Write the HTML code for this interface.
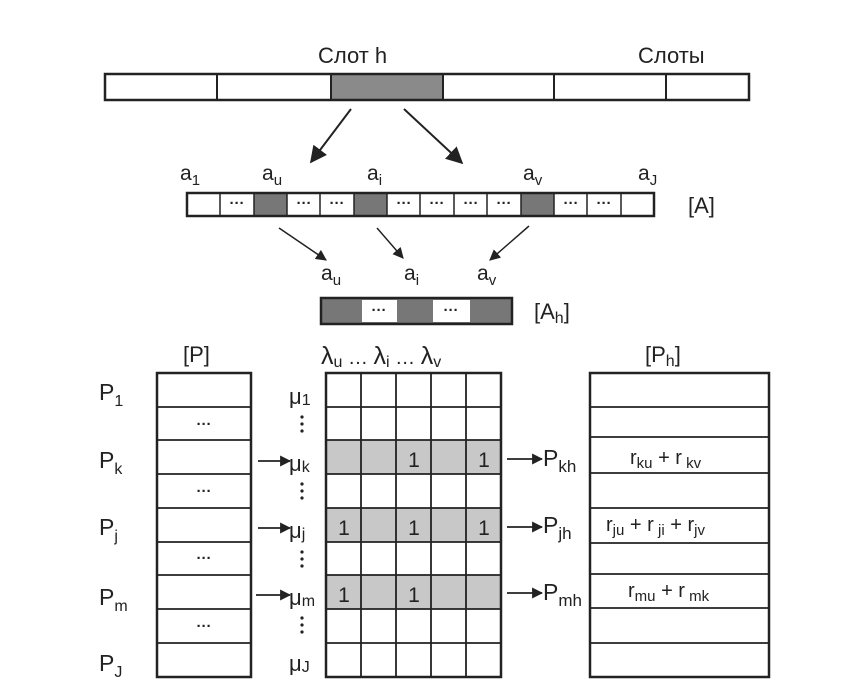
<!DOCTYPE html>
<html><head><meta charset="utf-8"><style>
html,body{margin:0;padding:0;background:#fff;}
svg{display:block;}
text{font-family:"Liberation Sans","DejaVu Sans",sans-serif;fill:#222;}
</style></head><body>
<svg width="850" height="695" viewBox="0 0 850 695" xmlns="http://www.w3.org/2000/svg">
<defs>
<marker id="ah" viewBox="0 0 10 10" refX="9" refY="5" markerWidth="11" markerHeight="11" orient="auto" markerUnits="userSpaceOnUse">
<path d="M0,0 L10,5 L0,10 z" fill="#222"/></marker>
<marker id="ab" viewBox="0 0 10 10" refX="9" refY="5" markerWidth="17" markerHeight="17" orient="auto" markerUnits="userSpaceOnUse">
<path d="M0,0 L10,5 L0,10 z" fill="#222"/></marker>
</defs>
<text x="318" y="63" font-size="22">Слот h</text>
<text x="638" y="63" font-size="22">Слоты</text>
<rect x="331" y="74" width="112" height="26" fill="#8a8a8a"/>
<rect x="105" y="74" width="644" height="26" fill="none" stroke="#222" stroke-width="2.5"/>
<g stroke="#222" stroke-width="2">
<line x1="217" y1="74" x2="217" y2="100"/><line x1="331" y1="74" x2="331" y2="100"/>
<line x1="443" y1="74" x2="443" y2="100"/><line x1="554" y1="74" x2="554" y2="100"/>
<line x1="666" y1="74" x2="666" y2="100"/>
</g>
<g stroke="#222" stroke-width="2">
<line x1="351" y1="109" x2="311" y2="162" marker-end="url(#ab)"/>
<line x1="404" y1="109" x2="462" y2="163" marker-end="url(#ab)"/>
</g>
<g font-size="21">
<text x="180" y="180">a<tspan font-size="15" dy="5">1</tspan></text>
<text x="262" y="180">a<tspan font-size="15" dy="5">u</tspan></text>
<text x="367" y="180">a<tspan font-size="15" dy="5">i</tspan></text>
<text x="523" y="180">a<tspan font-size="15" dy="5">v</tspan></text>
<text x="638" y="180">a<tspan font-size="15" dy="5">J</tspan></text>
<text x="688" y="213" font-size="22">[A]</text>
</g>
<rect x="254" y="193" width="33" height="23" fill="#777"/>
<rect x="354" y="193" width="33" height="23" fill="#777"/>
<rect x="521" y="193" width="33" height="23" fill="#777"/>
<g stroke="#222" stroke-width="1.5">
<line x1="220" y1="193" x2="220" y2="216"/><line x1="254" y1="193" x2="254" y2="216"/>
<line x1="287" y1="193" x2="287" y2="216"/><line x1="320" y1="193" x2="320" y2="216"/>
<line x1="354" y1="193" x2="354" y2="216"/><line x1="387" y1="193" x2="387" y2="216"/>
<line x1="420" y1="193" x2="420" y2="216"/><line x1="454" y1="193" x2="454" y2="216"/>
<line x1="487" y1="193" x2="487" y2="216"/><line x1="521" y1="193" x2="521" y2="216"/>
<line x1="554" y1="193" x2="554" y2="216"/><line x1="587" y1="193" x2="587" y2="216"/>
<line x1="621" y1="193" x2="621" y2="216"/>
</g>
<rect x="187" y="193" width="467" height="23" fill="none" stroke="#222" stroke-width="2.5"/>
<g font-size="15" font-weight="bold" text-anchor="middle">
<text x="237" y="208">···</text><text x="304" y="208">···</text><text x="337" y="208">···</text>
<text x="404" y="208">···</text><text x="437" y="208">···</text><text x="471" y="208">···</text><text x="504" y="208">···</text>
<text x="571" y="208">···</text><text x="604" y="208">···</text>
</g>
<g stroke="#222" stroke-width="1.5">
<line x1="279" y1="228" x2="326" y2="260" marker-end="url(#ah)"/>
<line x1="377" y1="228" x2="403" y2="258" marker-end="url(#ah)"/>
<line x1="529" y1="226" x2="490" y2="260" marker-end="url(#ah)"/>
</g>
<g font-size="21">
<text x="321" y="280">a<tspan font-size="15" dy="5">u</tspan></text>
<text x="404" y="280">a<tspan font-size="15" dy="5">i</tspan></text>
<text x="477" y="280">a<tspan font-size="15" dy="5">v</tspan></text>
<text x="534" y="319" font-size="22">[A<tspan font-size="16" dy="4">h</tspan><tspan dy="-4">]</tspan></text>
</g>
<rect x="321" y="298" width="191" height="26" fill="#777" stroke="#222" stroke-width="2.5"/>
<rect x="362" y="300" width="35" height="22" fill="#fff"/>
<rect x="433" y="300" width="37" height="22" fill="#fff"/>
<g font-size="15" font-weight="bold" text-anchor="middle"><text x="379" y="315">···</text><text x="451" y="315">···</text></g>
<g font-size="22">
<text x="183" y="362">[P]</text>
<text x="645" y="362">[P<tspan font-size="16" dy="4">h</tspan><tspan dy="-4">]</tspan></text>
<text x="321" y="364" font-size="25">λ<tspan font-size="16" dy="3">u</tspan><tspan dy="-3" font-size="20"> … </tspan>λ<tspan font-size="16" dy="3">i</tspan><tspan dy="-3" font-size="20"> … </tspan>λ<tspan font-size="16" dy="3">v</tspan></text>
</g>
<rect x="326" y="440" width="175" height="34" fill="#c8c8c8"/>
<rect x="326" y="508" width="175" height="34" fill="#c8c8c8"/>
<rect x="326" y="575" width="175" height="34" fill="#c8c8c8"/>
<g stroke="#222" stroke-width="1.8" fill="none">
<rect x="157" y="373" width="94" height="304" stroke-width="2.5"/>
<rect x="326" y="373" width="175" height="304" stroke-width="2.5"/>
<rect x="590" y="373" width="179" height="304" stroke-width="2.5"/>
<path d="M157 407H251M157 440H251M157 474H251M157 508H251M157 542H251M157 575H251M157 609H251M157 643H251"/>
<path d="M326 407H501M326 440H501M326 474H501M326 508H501M326 542H501M326 575H501M326 609H501M326 643H501"/>
<path d="M361 373V677M396 373V677M431 373V677M466 373V677"/>
<path d="M590 407H769M590 437H769M590 473H769M590 508H769M590 543H769M590 574H769M590 608H769M590 643H769"/>
</g>
<g font-size="15" font-weight="bold" text-anchor="middle">
<text x="204" y="429">···</text><text x="204" y="496">···</text><text x="204" y="563">···</text><text x="204" y="631">···</text>
</g>
<g font-size="23">
<text x="99" y="400">P<tspan font-size="16" dy="6">1</tspan></text>
<text x="99" y="468">P<tspan font-size="16" dy="6">k</tspan></text>
<text x="99" y="535">P<tspan font-size="16" dy="6">j</tspan></text>
<text x="99" y="605">P<tspan font-size="16" dy="6">m</tspan></text>
<text x="99" y="671">P<tspan font-size="16" dy="6">J</tspan></text>
</g>
<g font-size="22">
<text x="289" y="404">μ<tspan font-size="16" dy="1">1</tspan></text>
<text x="289" y="471">μ<tspan font-size="16" dy="1">k</tspan></text>
<text x="289" y="538">μ<tspan font-size="16" dy="1">j</tspan></text>
<text x="289" y="605">μ<tspan font-size="16" dy="1">m</tspan></text>
<text x="289" y="671">μ<tspan font-size="16" dy="1">J</tspan></text>
</g>
<g fill="#222">
<circle cx="302" cy="417" r="1.6"/><circle cx="302" cy="424" r="1.6"/><circle cx="302" cy="431" r="1.6"/>
<circle cx="302" cy="484" r="1.6"/><circle cx="302" cy="491" r="1.6"/><circle cx="302" cy="498" r="1.6"/>
<circle cx="302" cy="552" r="1.6"/><circle cx="302" cy="559" r="1.6"/><circle cx="302" cy="566" r="1.6"/>
<circle cx="302" cy="618" r="1.6"/><circle cx="302" cy="625" r="1.6"/><circle cx="302" cy="632" r="1.6"/>
</g>
<g stroke="#222" stroke-width="1.8">
<line x1="258" y1="461" x2="290" y2="461" marker-end="url(#ah)"/>
<line x1="258" y1="528" x2="290" y2="528" marker-end="url(#ah)"/>
<line x1="256" y1="595" x2="290" y2="595" marker-end="url(#ah)"/>
<line x1="507" y1="459" x2="542" y2="459" marker-end="url(#ah)"/>
<line x1="507" y1="527" x2="542" y2="527" marker-end="url(#ah)"/>
<line x1="507" y1="593" x2="542" y2="593" marker-end="url(#ah)"/>
</g>
<g font-size="21" text-anchor="middle">
<text x="414" y="467">1</text><text x="484" y="467">1</text>
<text x="344" y="535">1</text><text x="414" y="535">1</text><text x="484" y="535">1</text>
<text x="344" y="602">1</text><text x="414" y="602">1</text>
</g>
<g font-size="23">
<text x="543" y="466">P<tspan font-size="17" dy="6">kh</tspan></text>
<text x="543" y="533">P<tspan font-size="17" dy="6">jh</tspan></text>
<text x="543" y="600">P<tspan font-size="17" dy="6">mh</tspan></text>
</g>
<g font-size="20">
<text x="630" y="464">r<tspan font-size="15" dy="4">ku</tspan><tspan dy="-4">  + r</tspan><tspan font-size="15" dy="4"> kv</tspan></text>
<text x="606" y="531">r<tspan font-size="15" dy="4">ju</tspan><tspan dy="-4">   + r</tspan><tspan font-size="15" dy="4"> ji</tspan><tspan dy="-4"> + r</tspan><tspan font-size="15" dy="4">jv</tspan></text>
<text x="628" y="597">r<tspan font-size="15" dy="4">mu</tspan><tspan dy="-4"> + r</tspan><tspan font-size="15" dy="4"> mk</tspan></text>
</g>
</svg>
</body></html>
